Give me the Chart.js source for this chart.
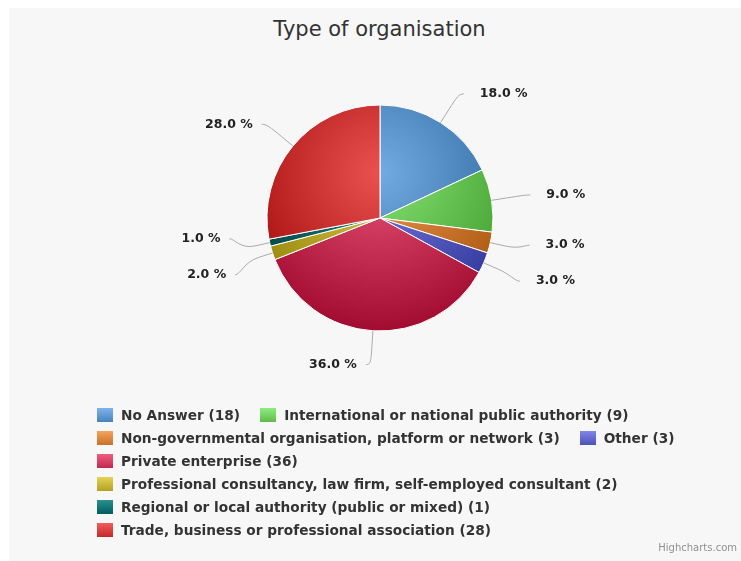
<!DOCTYPE html>
<html>
<head>
<meta charset="utf-8">
<script src="https://cdn.jsdelivr.net/npm/chart.js@4/dist/chart.umd.min.js"></script>
<style>
  html, body { margin: 0; padding: 0; background: #ffffff; }
  #frame { position: absolute; left: 9px; top: 8px; width: 732px; height: 553px; background: #f7f7f7; }
  #pie { position: absolute; left: 0; top: 0; }
  #title { position: absolute; left: 9px; top: 17px; width: 741px; text-align: center;
           font: 21px "DejaVu Sans", sans-serif; color: #333333; }
  #legend { position: absolute; left: 97px; top: 403px; width: 625px;
            display: flex; flex-wrap: wrap; font: bold 13.7px "DejaVu Sans", sans-serif; color: #333333; }
  .item { display: flex; align-items: center; height: 23px; margin-right: 20px; white-space: nowrap; }
  .swatch { width: 16px; height: 14px; margin-right: 8px; }
  #credits { position: absolute; right: 4px; top: 542px; font: 10px "DejaVu Sans", sans-serif; color: #909090; }
</style>
</head>
<body>
<div id="frame"></div>
<div id="title">Type of organisation</div>
<canvas id="pie" width="741" height="561"></canvas>
<div id="legend"></div>
<div id="credits">Highcharts.com</div>
<script>
// categories clockwise from 12 o'clock
const categories = [
    'No Answer',
    'International or national public authority',
    'Non-governmental organisation, platform or network',
    'Other',
    'Private enterprise',
    'Professional consultancy, law firm, self-employed consultant',
    'Regional or local authority (public or mixed)',
    'Trade, business or professional association'
];
const counts = [18, 9, 3, 3, 36, 2, 1, 28];
const sliceColors = ['#7cb5ec', '#90ed7d', '#f7a35c', '#8085e9', '#f15c80', '#e4d354', '#2b908f', '#f45b5b'];

const PIE_RADIUS = 113;
const LABEL_DISTANCE = 34;
const CONNECTOR_OFFSET = 15;
const LABEL_GAP = 36;

const total = counts.reduce((a, b) => a + b, 0);

function darken(hex, amount) {
    const n = parseInt(hex.slice(1), 16);
    const c = [(n >> 16) & 255, (n >> 8) & 255, n & 255].map(v => Math.max(0, v - amount));
    return `rgb(${c[0]},${c[1]},${c[2]})`;
}

// highcharts-like radial gradient relative to the whole pie
function sliceFill(ctx) {
    const chart = ctx.chart;
    const area = chart.chartArea;
    const base = sliceColors[ctx.dataIndex];
    if (!area) return base;
    const cx = (area.left + area.right) / 2;
    const cy = (area.top + area.bottom) / 2;
    const gy = cy - PIE_RADIUS + 0.6 * PIE_RADIUS;
    const g = chart.ctx.createRadialGradient(cx, gy, 0, cx, gy, 1.4 * PIE_RADIUS);
    g.addColorStop(0, darken(base, 10));
    g.addColorStop(1, darken(base, 80));
    return g;
}

const outsideLabels = {
    id: 'outsideLabels',
    afterDatasetsDraw(chart) {
        const ctx = chart.ctx;
        const meta = chart.getDatasetMeta(0);
        const items = meta.data.map((arc, i) => {
            const p = arc.getProps(['x', 'y', 'startAngle', 'endAngle', 'outerRadius'], true);
            const a = (p.startAngle + p.endAngle) / 2;
            const R = p.outerRadius + LABEL_DISTANCE;
            return {
                i, cx: p.x, cy: p.y, r: p.outerRadius, R, a,
                left: Math.cos(a) < 0,
                y: p.y + R * Math.sin(a)
            };
        });

        // spread crowded labels apart on each side
        [true, false].forEach(side => {
            const list = items.filter(it => it.left === side).sort((m, n) => m.y - n.y);
            for (let pass = 0; pass < 20; pass++) {
                for (let k = 1; k < list.length; k++) {
                    const d = LABEL_GAP - (list[k].y - list[k - 1].y);
                    if (d > 0) {
                        list[k - 1].y -= d / 2;
                        list[k].y += d / 2;
                    }
                }
            }
        });

        ctx.save();
        ctx.font = 'bold 12.5px "DejaVu Sans", sans-serif';
        ctx.textBaseline = 'middle';
        items.forEach(it => {
            const dy = it.y - it.cy;
            const dx = Math.sqrt(Math.max(it.R * it.R - dy * dy, 0));
            const sx = it.left ? -1 : 1;
            const x = it.cx + sx * Math.max(dx, Math.abs(it.R * Math.cos(it.a)));
            const x2 = it.cx + (it.r + CONNECTOR_OFFSET) * Math.cos(it.a);
            const y2 = it.cy + (it.r + CONNECTOR_OFFSET) * Math.sin(it.a);
            const x3 = it.cx + it.r * Math.cos(it.a);
            const y3 = it.cy + it.r * Math.sin(it.a);

            ctx.strokeStyle = '#aaaaaa';
            ctx.lineWidth = 1;
            ctx.beginPath();
            ctx.moveTo(x + sx * 5, it.y);
            ctx.bezierCurveTo(x, it.y, 2 * x2 - x3, 2 * y2 - y3, x2, y2);
            ctx.lineTo(x3, y3);
            ctx.stroke();

            const txt = (counts[it.i] / total * 100).toFixed(1) + ' %';
            ctx.fillStyle = '#222222';
            ctx.textAlign = it.left ? 'right' : 'left';
            ctx.fillText(txt, it.left ? x - 14 : x + 21, it.y);
        });
        ctx.restore();
    }
};

new Chart(document.getElementById('pie'), {
    type: 'pie',
    data: {
        labels: categories,
        datasets: [{
            data: counts,
            backgroundColor: sliceFill,
            borderColor: '#ffffff',
            borderWidth: 1,
            radius: PIE_RADIUS
        }]
    },
    options: {
        responsive: false,
        animation: false,
        devicePixelRatio: 1,
        layout: { padding: { left: 250, right: 231, top: 100, bottom: 225 } },
        plugins: {
            legend: { display: false },
            title: { display: false },
            tooltip: { enabled: false }
        }
    },
    plugins: [outsideLabels]
});

// legend built from the same arrays
const legendEl = document.getElementById('legend');
categories.forEach((name, i) => {
    const item = document.createElement('div');
    item.className = 'item';
    const sw = document.createElement('span');
    sw.className = 'swatch';
    sw.style.background = `linear-gradient(${sliceColors[i]}, ${darken(sliceColors[i], 50)})`;
    item.appendChild(sw);
    item.appendChild(document.createTextNode(`${name} (${counts[i]})`));
    legendEl.appendChild(item);
});
</script>
</body>
</html>
